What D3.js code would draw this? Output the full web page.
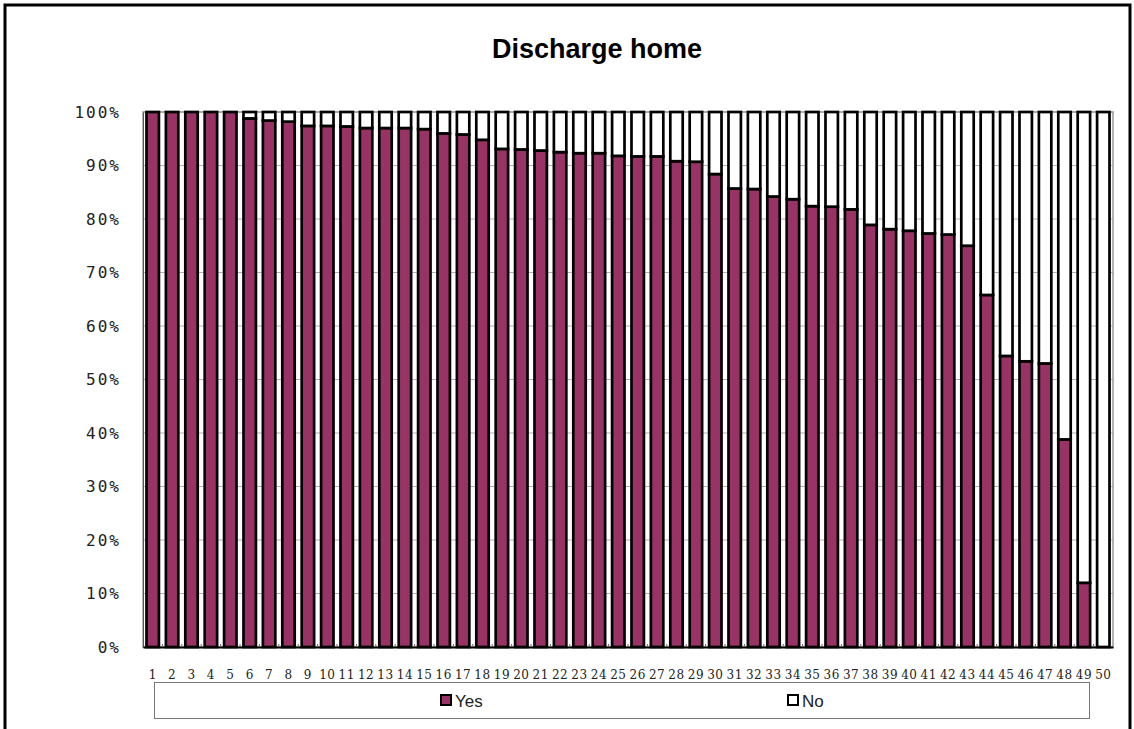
<!DOCTYPE html>
<html>
<head>
<meta charset="utf-8">
<script src="https://cdn.jsdelivr.net/npm/d3@7"></script>
<style>
  html, body { margin: 0; padding: 0; background: #fff; }
  svg { display: block; }
</style>
</head>
<body>
<svg id="chart" width="1134" height="729"></svg>
<script>
const categories = d3.range(1, 51).map(String);
const yesValues = [100, 100, 100, 100, 100, 98.8, 98.4, 98.2, 97.4, 97.4,
  97.3, 97.0, 97.0, 97.0, 96.8, 96.0, 95.8, 94.8, 93.1, 93.0,
  92.8, 92.5, 92.3, 92.3, 91.8, 91.7, 91.7, 90.8, 90.7, 88.4,
  85.7, 85.6, 84.2, 83.7, 82.4, 82.3, 81.8, 78.9, 78.1, 77.8,
  77.3, 77.1, 75.0, 65.8, 54.4, 53.4, 53.0, 38.8, 12.0, 0];
const noValues = yesValues.map(v => +(100 - v).toFixed(1));
const seriesNames = ["Yes", "No"];
const seriesColors = ["#993366", "#ffffff"];
const yTicks = [0, 10, 20, 30, 40, 50, 60, 70, 80, 90, 100];
const title = "Discharge home";

const svg = d3.select("#chart");
const plot = { left: 143, top: 112, right: 1113, bottom: 647 };

// outer frame
svg.append("rect").attr("x", 5).attr("y", 5).attr("width", 1125).attr("height", 760)
  .attr("fill", "#fff").attr("stroke", "#000").attr("stroke-width", 3);

svg.append("text").attr("x", 597).attr("y", 58).attr("text-anchor", "middle")
  .attr("font-family", "Liberation Sans, Arial, sans-serif").attr("font-weight", "bold")
  .attr("font-size", 27).text(title);

const x = d3.scaleBand().domain(categories).range([plot.left, plot.right]).paddingInner(0.36).paddingOuter(0.18);
const y = d3.scaleLinear().domain([0, 100]).range([plot.bottom, plot.top]);

// gridlines
svg.append("g").selectAll("line").data(yTicks.filter(t => t > 0)).join("line")
  .attr("x1", plot.left).attr("x2", plot.right)
  .attr("y1", d => y(d)).attr("y2", d => y(d))
  .attr("stroke", "#b3b3b3").attr("stroke-width", 1);

// plot frame (gray)
svg.append("rect").attr("x", plot.left).attr("y", plot.top)
  .attr("width", plot.right - plot.left).attr("height", plot.bottom - plot.top)
  .attr("fill", "none").attr("stroke", "#999").attr("stroke-width", 1.5);

// stacked bars
const rows = categories.map((c, i) => ({ cat: c, Yes: yesValues[i], No: noValues[i] }));
const stack = d3.stack().keys(seriesNames)(rows);
const g = svg.append("g");
stack.forEach((layer, li) => {
  g.append("g").selectAll("rect").data(layer).join("rect")
    .attr("x", d => x(d.data.cat))
    .attr("width", x.bandwidth())
    .attr("y", d => y(d[1]))
    .attr("height", d => y(d[0]) - y(d[1]))
    .attr("fill", seriesColors[li])
    .attr("stroke", "#000").attr("stroke-width", 2.7);
});

// y axis
const yAxis = d3.axisLeft(y).tickValues(yTicks).tickFormat(d => d + "%").tickSize(0).tickPadding(22);
const ya = svg.append("g").attr("transform", `translate(${plot.left},0)`).call(yAxis);
ya.select(".domain").attr("stroke", "#555");
ya.selectAll("text").attr("font-family", "DejaVu Sans Mono, monospace").attr("font-size", 16)
  .attr("letter-spacing", 2).attr("fill", "#222");

// x axis
const xAxis = d3.axisBottom(x).tickSize(0).tickPadding(23);
const xa = svg.append("g").attr("transform", `translate(0,${plot.bottom})`).call(xAxis);
xa.select(".domain").attr("stroke", "#000").attr("stroke-width", 2);
xa.selectAll("text").attr("font-family", "DejaVu Serif, serif").attr("font-size", 12)
  .attr("letter-spacing", 0.5).attr("fill", "#222");
// small category separators
svg.append("g").selectAll("line").data(categories.slice(1)).join("line")
  .attr("x1", d => x(d) - x.step() * x.paddingInner() / 2)
  .attr("x2", d => x(d) - x.step() * x.paddingInner() / 2)
  .attr("y1", plot.bottom).attr("y2", plot.bottom - 3)
  .attr("stroke", "#666").attr("stroke-width", 1);

// legend
svg.append("rect").attr("x", 154.5).attr("y", 682.5).attr("width", 935).attr("height", 36)
  .attr("fill", "#fff").attr("stroke", "#777").attr("stroke-width", 1);
const legendX = [441, 788];
seriesNames.forEach((s, i) => {
  svg.append("rect").attr("x", legendX[i]).attr("y", 695).attr("width", 10).attr("height", 10)
    .attr("fill", seriesColors[i]).attr("stroke", "#000").attr("stroke-width", 2);
  svg.append("text").attr("x", legendX[i] + 14).attr("y", 707)
    .attr("font-family", "Liberation Sans, Arial, sans-serif").attr("font-size", 17)
    .attr("fill", "#222").text(s);
});
</script>
</body>
</html>
